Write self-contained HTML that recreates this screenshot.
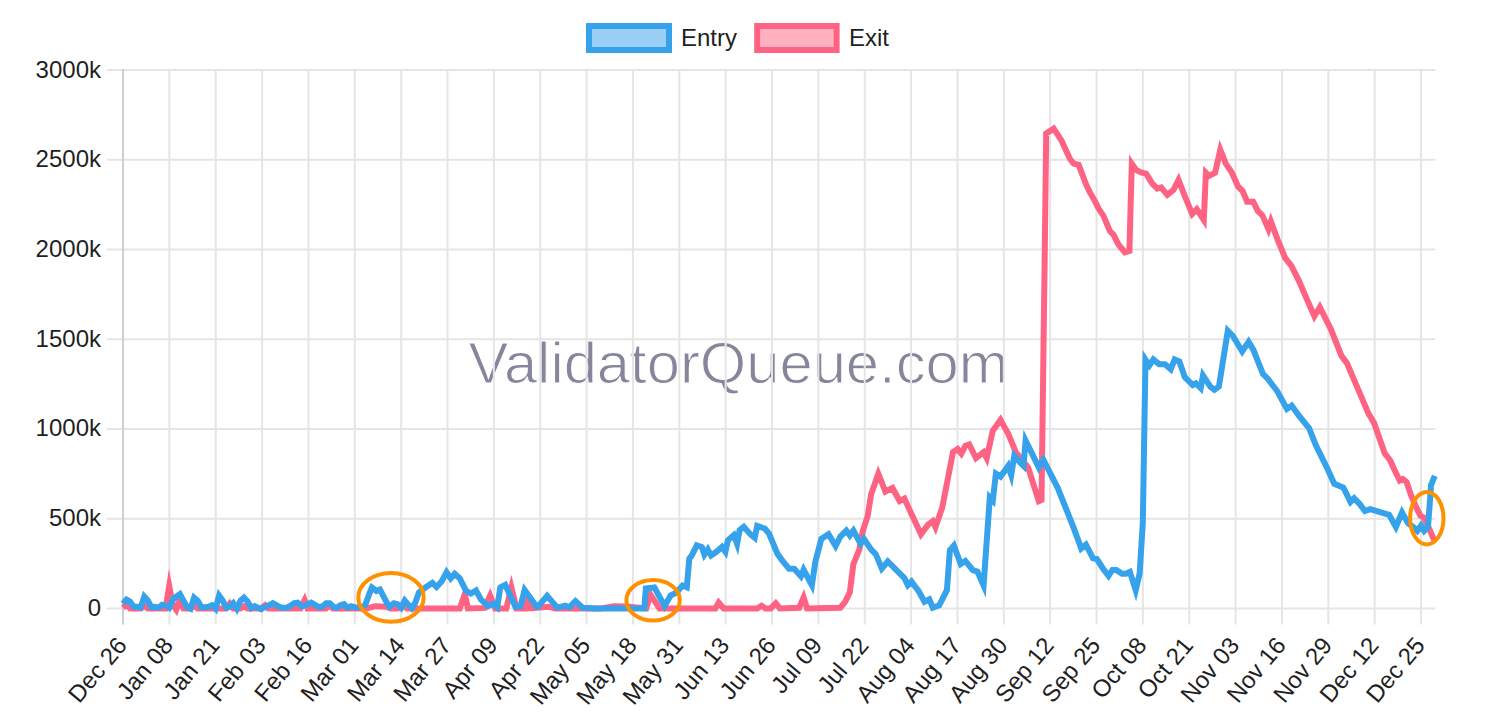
<!DOCTYPE html>
<html><head><meta charset="utf-8"><style>
html,body{margin:0;padding:0;background:#fff;}
svg{display:block;}
.t{font-family:"Liberation Sans",sans-serif;font-size:24px;fill:#1f1f1f;}
.wm{font-family:"Liberation Sans",sans-serif;font-size:58px;fill:#85859b;stroke:#fff;stroke-width:1.1px;}
</style></head><body>
<svg width="1486" height="721" viewBox="0 0 1486 721">
<text x="468.5" y="382.8" class="wm" textLength="540" lengthAdjust="spacingAndGlyphs">ValidatorQueue.com</text>
<line x1="107" y1="608.40" x2="1435.30" y2="608.40" stroke="#e5e5e5" stroke-width="2"/>
<line x1="107" y1="518.68" x2="1435.30" y2="518.68" stroke="#e5e5e5" stroke-width="2"/>
<line x1="107" y1="428.97" x2="1435.30" y2="428.97" stroke="#e5e5e5" stroke-width="2"/>
<line x1="107" y1="339.25" x2="1435.30" y2="339.25" stroke="#e5e5e5" stroke-width="2"/>
<line x1="107" y1="249.53" x2="1435.30" y2="249.53" stroke="#e5e5e5" stroke-width="2"/>
<line x1="107" y1="159.82" x2="1435.30" y2="159.82" stroke="#e5e5e5" stroke-width="2"/>
<line x1="107" y1="70.10" x2="1435.30" y2="70.10" stroke="#e5e5e5" stroke-width="2"/>
<line x1="123.00" y1="69.10" x2="123.00" y2="624.6" stroke="#cfcfcf" stroke-width="2"/>
<line x1="169.36" y1="69.10" x2="169.36" y2="624.6" stroke="#e5e5e5" stroke-width="2"/>
<line x1="215.72" y1="69.10" x2="215.72" y2="624.6" stroke="#e5e5e5" stroke-width="2"/>
<line x1="262.08" y1="69.10" x2="262.08" y2="624.6" stroke="#e5e5e5" stroke-width="2"/>
<line x1="308.43" y1="69.10" x2="308.43" y2="624.6" stroke="#e5e5e5" stroke-width="2"/>
<line x1="354.79" y1="69.10" x2="354.79" y2="624.6" stroke="#e5e5e5" stroke-width="2"/>
<line x1="401.15" y1="69.10" x2="401.15" y2="624.6" stroke="#e5e5e5" stroke-width="2"/>
<line x1="447.51" y1="69.10" x2="447.51" y2="624.6" stroke="#e5e5e5" stroke-width="2"/>
<line x1="493.87" y1="69.10" x2="493.87" y2="624.6" stroke="#e5e5e5" stroke-width="2"/>
<line x1="540.23" y1="69.10" x2="540.23" y2="624.6" stroke="#e5e5e5" stroke-width="2"/>
<line x1="586.58" y1="69.10" x2="586.58" y2="624.6" stroke="#e5e5e5" stroke-width="2"/>
<line x1="632.94" y1="69.10" x2="632.94" y2="624.6" stroke="#e5e5e5" stroke-width="2"/>
<line x1="679.30" y1="69.10" x2="679.30" y2="624.6" stroke="#e5e5e5" stroke-width="2"/>
<line x1="725.66" y1="69.10" x2="725.66" y2="624.6" stroke="#e5e5e5" stroke-width="2"/>
<line x1="772.02" y1="69.10" x2="772.02" y2="624.6" stroke="#e5e5e5" stroke-width="2"/>
<line x1="818.38" y1="69.10" x2="818.38" y2="624.6" stroke="#e5e5e5" stroke-width="2"/>
<line x1="864.73" y1="69.10" x2="864.73" y2="624.6" stroke="#e5e5e5" stroke-width="2"/>
<line x1="911.09" y1="69.10" x2="911.09" y2="624.6" stroke="#e5e5e5" stroke-width="2"/>
<line x1="957.45" y1="69.10" x2="957.45" y2="624.6" stroke="#e5e5e5" stroke-width="2"/>
<line x1="1003.81" y1="69.10" x2="1003.81" y2="624.6" stroke="#e5e5e5" stroke-width="2"/>
<line x1="1050.17" y1="69.10" x2="1050.17" y2="624.6" stroke="#e5e5e5" stroke-width="2"/>
<line x1="1096.53" y1="69.10" x2="1096.53" y2="624.6" stroke="#e5e5e5" stroke-width="2"/>
<line x1="1142.89" y1="69.10" x2="1142.89" y2="624.6" stroke="#e5e5e5" stroke-width="2"/>
<line x1="1189.24" y1="69.10" x2="1189.24" y2="624.6" stroke="#e5e5e5" stroke-width="2"/>
<line x1="1235.60" y1="69.10" x2="1235.60" y2="624.6" stroke="#e5e5e5" stroke-width="2"/>
<line x1="1281.96" y1="69.10" x2="1281.96" y2="624.6" stroke="#e5e5e5" stroke-width="2"/>
<line x1="1328.32" y1="69.10" x2="1328.32" y2="624.6" stroke="#e5e5e5" stroke-width="2"/>
<line x1="1374.68" y1="69.10" x2="1374.68" y2="624.6" stroke="#e5e5e5" stroke-width="2"/>
<line x1="1421.04" y1="69.10" x2="1421.04" y2="624.6" stroke="#e5e5e5" stroke-width="2"/>
<text x="101" y="615.80" text-anchor="end" class="t">0</text>
<text x="101" y="526.08" text-anchor="end" class="t">500k</text>
<text x="101" y="436.37" text-anchor="end" class="t">1000k</text>
<text x="101" y="346.65" text-anchor="end" class="t">1500k</text>
<text x="101" y="256.93" text-anchor="end" class="t">2000k</text>
<text x="101" y="167.22" text-anchor="end" class="t">2500k</text>
<text x="101" y="77.50" text-anchor="end" class="t">3000k</text>
<text transform="translate(121.60,640.6) rotate(-50)" text-anchor="end" dy="8.4" class="t">Dec 26</text>
<text transform="translate(167.96,640.6) rotate(-50)" text-anchor="end" dy="8.4" class="t">Jan 08</text>
<text transform="translate(214.32,640.6) rotate(-50)" text-anchor="end" dy="8.4" class="t">Jan 21</text>
<text transform="translate(260.68,640.6) rotate(-50)" text-anchor="end" dy="8.4" class="t">Feb 03</text>
<text transform="translate(307.03,640.6) rotate(-50)" text-anchor="end" dy="8.4" class="t">Feb 16</text>
<text transform="translate(353.39,640.6) rotate(-50)" text-anchor="end" dy="8.4" class="t">Mar 01</text>
<text transform="translate(399.75,640.6) rotate(-50)" text-anchor="end" dy="8.4" class="t">Mar 14</text>
<text transform="translate(446.11,640.6) rotate(-50)" text-anchor="end" dy="8.4" class="t">Mar 27</text>
<text transform="translate(492.47,640.6) rotate(-50)" text-anchor="end" dy="8.4" class="t">Apr 09</text>
<text transform="translate(538.83,640.6) rotate(-50)" text-anchor="end" dy="8.4" class="t">Apr 22</text>
<text transform="translate(585.18,640.6) rotate(-50)" text-anchor="end" dy="8.4" class="t">May 05</text>
<text transform="translate(631.54,640.6) rotate(-50)" text-anchor="end" dy="8.4" class="t">May 18</text>
<text transform="translate(677.90,640.6) rotate(-50)" text-anchor="end" dy="8.4" class="t">May 31</text>
<text transform="translate(724.26,640.6) rotate(-50)" text-anchor="end" dy="8.4" class="t">Jun 13</text>
<text transform="translate(770.62,640.6) rotate(-50)" text-anchor="end" dy="8.4" class="t">Jun 26</text>
<text transform="translate(816.98,640.6) rotate(-50)" text-anchor="end" dy="8.4" class="t">Jul 09</text>
<text transform="translate(863.33,640.6) rotate(-50)" text-anchor="end" dy="8.4" class="t">Jul 22</text>
<text transform="translate(909.69,640.6) rotate(-50)" text-anchor="end" dy="8.4" class="t">Aug 04</text>
<text transform="translate(956.05,640.6) rotate(-50)" text-anchor="end" dy="8.4" class="t">Aug 17</text>
<text transform="translate(1002.41,640.6) rotate(-50)" text-anchor="end" dy="8.4" class="t">Aug 30</text>
<text transform="translate(1048.77,640.6) rotate(-50)" text-anchor="end" dy="8.4" class="t">Sep 12</text>
<text transform="translate(1095.13,640.6) rotate(-50)" text-anchor="end" dy="8.4" class="t">Sep 25</text>
<text transform="translate(1141.49,640.6) rotate(-50)" text-anchor="end" dy="8.4" class="t">Oct 08</text>
<text transform="translate(1187.84,640.6) rotate(-50)" text-anchor="end" dy="8.4" class="t">Oct 21</text>
<text transform="translate(1234.20,640.6) rotate(-50)" text-anchor="end" dy="8.4" class="t">Nov 03</text>
<text transform="translate(1280.56,640.6) rotate(-50)" text-anchor="end" dy="8.4" class="t">Nov 16</text>
<text transform="translate(1326.92,640.6) rotate(-50)" text-anchor="end" dy="8.4" class="t">Nov 29</text>
<text transform="translate(1373.28,640.6) rotate(-50)" text-anchor="end" dy="8.4" class="t">Dec 12</text>
<text transform="translate(1419.64,640.6) rotate(-50)" text-anchor="end" dy="8.4" class="t">Dec 25</text>
<polyline points="122.9,607.7 126.5,604.7 130.0,608.4 140.7,608.4 144.3,605.7 147.8,608.4 165.6,608.4 169.2,586.0 172.8,604.7 176.3,609.7 179.9,599.6 183.5,608.4 190.6,608.4 194.1,605.2 197.7,608.4 226.2,608.4 229.8,603.7 233.3,608.4 240.5,608.4 244.0,606.2 247.6,608.4 261.1,608.4 265.1,605.2 268.2,608.4 300.5,608.4 304.6,600.1 307.6,608.4 325.9,608.4 329.7,605.5 332.9,608.4 366.3,608.4 375.4,606.2 386.6,606.7 390.6,608.4 397.5,608.4 404.1,606.7 407.1,608.4 459.8,608.4 464.8,594.1 467.9,608.4 484.6,607.9 490.1,595.6 495.2,608.4 506.3,608.4 511.4,587.5 516.5,608.4 525.6,608.4 527.6,601.1 530.6,608.4 548.2,606.7 555.2,608.4 600.8,608.4 613.9,606.2 626.1,606.5 646.3,608.4 650.4,594.6 659.5,608.4 715.3,608.4 718.7,602.7 723.7,608.4 757.2,608.4 761.4,605.7 765.6,608.4 770.7,608.4 775.7,603.2 779.9,608.4 799.2,607.7 803.6,597.5 807.1,608.4 840.3,607.7 845.1,601.8 849.8,592.3 853.4,563.9 859.3,549.6 862.9,530.6 867.6,516.4 871.2,493.9 878.3,473.7 885.4,491.5 892.5,488.0 899.6,501.0 904.4,498.6 911.5,514.0 921.0,534.2 928.1,524.7 932.8,521.2 935.5,527.2 942.3,507.3 953.0,452.1 957.6,449.0 961.3,453.6 965.3,446.0 969.2,444.5 976.0,458.2 983.6,452.1 986.7,458.2 992.8,430.7 1000.5,419.9 1008.2,433.7 1015.8,452.1 1028.1,467.4 1038.8,501.2 1041.5,500.0 1044.7,256.0 1046.2,133.4 1053.7,128.7 1061.2,140.0 1069.9,158.7 1073.7,163.7 1078.7,164.9 1086.2,184.9 1089.9,192.4 1094.9,201.1 1098.6,208.6 1103.6,216.1 1109.9,231.1 1113.6,234.8 1118.6,244.8 1124.9,252.3 1129.4,251.0 1131.8,163.7 1136.1,169.9 1141.1,172.4 1146.1,173.7 1152.3,183.6 1157.3,188.6 1161.1,187.4 1167.3,194.9 1173.5,189.9 1178.5,179.9 1184.8,196.1 1192.2,213.9 1196.8,209.3 1203.8,220.0 1205.9,172.7 1209.0,175.8 1215.1,172.7 1220.3,149.8 1225.8,163.6 1231.9,172.7 1238.0,186.5 1242.6,191.0 1247.1,201.7 1253.2,201.7 1257.8,210.9 1262.4,215.4 1268.5,229.2 1270.9,221.5 1277.7,239.9 1285.3,258.2 1291.4,265.8 1299.0,281.1 1307.2,300.0 1314.4,316.2 1319.8,307.2 1330.7,328.8 1341.5,355.9 1346.9,363.1 1357.7,388.4 1368.5,413.6 1373.9,422.6 1384.7,453.3 1390.2,460.5 1394.4,469.8 1399.7,480.5 1402.8,479.0 1406.6,482.0 1411.2,495.8 1415.8,506.4 1420.3,515.6 1424.2,517.9 1428.7,527.8 1434.1,540.0" fill="none" stroke="#ff6384" stroke-width="6" stroke-linejoin="miter" stroke-miterlimit="10"/>
<polyline points="122.9,603.7 126.5,599.6 130.0,601.6 133.6,606.7 137.1,606.7 140.7,607.7 144.3,596.6 147.8,600.6 151.4,607.2 155.0,606.7 158.5,607.7 162.1,604.7 165.6,605.7 169.2,607.7 172.8,599.6 176.3,596.6 179.9,594.1 183.5,600.6 187.0,607.2 190.6,608.7 194.1,597.6 197.7,600.6 201.3,607.2 204.8,607.2 208.4,606.7 212.0,605.2 215.5,608.7 219.1,595.6 222.7,600.6 226.2,607.7 229.8,606.7 233.3,603.2 236.9,608.7 240.5,600.6 244.0,597.6 247.6,601.6 251.2,608.2 254.7,606.2 261.1,609.2 265.6,606.7 269.2,605.2 272.8,603.2 276.4,605.2 279.9,607.2 283.4,607.7 287.0,607.7 290.5,605.7 294.2,603.2 297.7,602.7 301.3,606.2 304.8,605.7 311.2,602.7 315.5,605.2 319.1,607.2 322.6,606.2 326.2,603.2 329.7,603.2 333.3,606.7 336.9,607.7 340.4,605.2 344.0,604.2 347.5,607.7 351.2,606.2 354.7,607.2 361.8,607.7 365.3,604.7 369.0,594.6 371.9,587.5 376.5,591.0 380.0,589.5 383.1,595.6 386.8,602.7 389.6,606.7 393.9,603.2 397.5,604.2 401.1,607.7 404.7,600.6 408.3,604.7 411.8,608.2 415.3,602.7 418.9,592.5 425.4,587.5 432.4,582.9 436.5,587.0 441.6,581.4 446.6,572.3 450.7,578.4 454.7,573.8 459.8,578.4 465.9,590.5 470.9,593.5 476.0,590.5 481.0,599.6 488.1,606.2 493.2,603.7 497.2,607.2 500.3,587.5 505.3,584.9 515.4,606.7 520.5,606.2 524.6,590.0 536.7,606.7 538.0,606.7 547.1,595.8 557.3,607.7 565.4,605.7 569.4,607.2 575.5,601.1 582.6,607.7 595.7,608.4 644.3,608.4 645.8,588.5 654.4,587.5 664.6,605.9 670.6,595.6 676.7,592.3 682.6,585.6 686.8,587.2 689.3,558.7 691.8,555.4 696.8,545.3 701.9,547.0 704.4,554.5 707.8,549.5 711.1,555.4 716.1,552.0 722.0,547.0 725.4,551.7 727.9,540.3 733.8,535.2 737.1,544.0 739.6,530.2 743.8,526.8 750.5,534.4 754.7,537.8 757.2,526.0 764.8,528.5 769.0,533.6 777.4,553.7 781.6,559.6 789.1,568.8 794.2,568.8 800.9,576.3 803.6,569.8 811.9,585.2 815.4,561.5 821.3,538.9 828.5,534.2 835.6,546.1 840.3,536.6 846.3,530.6 849.8,535.4 853.4,530.6 860.5,543.7 864.0,538.9 871.2,549.6 875.9,554.4 881.8,568.6 887.8,561.5 894.9,568.6 904.4,578.1 907.9,585.2 911.5,581.6 918.6,591.1 924.5,601.8 929.3,599.4 932.8,607.7 939.2,605.4 946.9,590.1 949.9,550.2 953.9,545.6 960.7,564.0 965.3,560.9 972.9,570.1 977.5,571.7 983.6,585.5 989.8,497.5 992.8,500.6 995.9,473.6 1000.5,476.6 1008.2,465.9 1011.2,475.1 1014.3,455.8 1020.4,462.8 1023.5,465.9 1025.6,440.5 1038.8,467.4 1043.4,459.8 1057.8,488.1 1065.6,507.6 1073.4,527.1 1081.2,548.5 1085.9,544.6 1092.9,558.2 1096.8,559.0 1102.6,568.0 1108.5,575.8 1112.4,569.9 1116.3,569.9 1122.1,573.8 1126.0,573.8 1129.9,571.9 1135.7,590.2 1139.6,573.8 1142.8,523.2 1145.5,359.5 1149.4,365.3 1153.3,359.5 1159.1,364.2 1165.0,364.2 1170.8,369.2 1174.7,359.5 1179.4,361.4 1184.8,377.0 1192.8,385.0 1195.9,383.4 1200.7,388.1 1203.0,375.4 1210.3,386.6 1214.4,389.7 1218.9,386.6 1227.8,330.7 1232.6,335.5 1242.2,351.5 1248.6,341.9 1253.4,349.9 1262.9,373.8 1267.7,378.6 1277.3,391.3 1286.9,408.9 1291.6,405.7 1298.7,415.3 1309.0,428.0 1316.2,446.1 1321.6,456.9 1327.0,467.7 1334.3,483.9 1343.3,487.5 1350.5,501.9 1354.1,498.3 1359.5,503.8 1364.9,511.0 1370.3,509.2 1389.1,514.8 1395.9,527.0 1402.0,512.5 1408.1,523.2 1414.2,527.8 1417.3,530.9 1421.1,525.5 1424.2,530.9 1428.0,527.0 1430.3,495.8 1431.0,485.1 1434.8,475.9" fill="none" stroke="#36a2eb" stroke-width="6" stroke-linejoin="miter" stroke-miterlimit="10"/>
<ellipse cx="391" cy="597.4" rx="32.7" ry="24.3" fill="none" stroke="#ff9000" stroke-width="4"/>
<ellipse cx="653.1" cy="600.3" rx="26.7" ry="20.3" fill="none" stroke="#ff9000" stroke-width="4"/>
<ellipse cx="1426.8" cy="518.2" rx="16.7" ry="26.2" fill="none" stroke="#ff9000" stroke-width="4"/>
<rect x="589" y="26" width="80" height="24" fill="#9ad0f5" stroke="#36a2eb" stroke-width="6"/>
<text x="681" y="46.1" class="t">Entry</text>
<rect x="757.2" y="26" width="79.4" height="24" fill="#ffb1c1" stroke="#ff6384" stroke-width="6"/>
<text x="849" y="46.1" class="t">Exit</text>
</svg></body></html>
